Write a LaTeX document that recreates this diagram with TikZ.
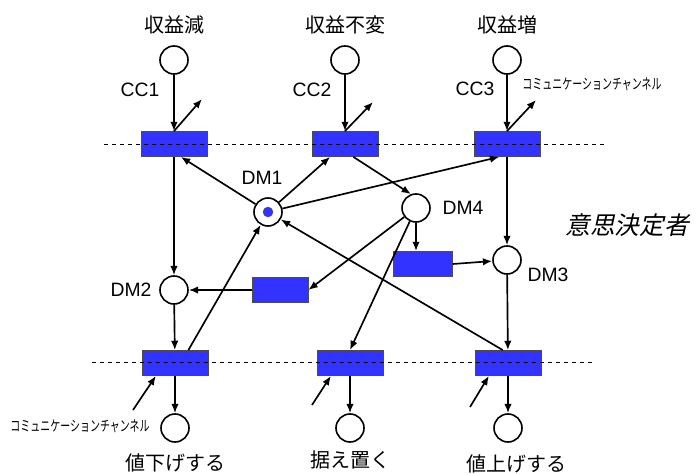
\documentclass[tikz,border=0pt]{standalone}
\usepackage{fontspec}
\usepackage{xcolor}
\usepackage{tikz}
\usetikzlibrary{arrows.meta}

\setmainfont{Liberation Sans}
\newfontfamily\jp{Noto Sans CJK JP}
\newfontfamily\jpslant[FakeSlant=0.22]{Noto Sans CJK JP}
\newfontfamily\jpnarrow[FakeStretch=0.68]{Noto Sans CJK JP}

\definecolor{transblue}{RGB}{51,51,255}

\tikzset{
	place/.style={circle, minimum size=21pt, inner sep=0pt, draw=black, line width=1.2pt, fill=white},
	trans/.style={rectangle, minimum width=49.5pt, minimum height=18.75pt, inner sep=0pt, draw=black!70, line width=0.6pt, fill=transblue},
	flow/.style={line width=1.25pt, -{Latex[length=7pt,width=5.6pt]}},
	sep/.style={dashed, line width=0.6pt, dash pattern=on 3pt off 3pt},
	lat/.style={font=\fontsize{14.5}{16}\selectfont},
	jlbl/.style={font=\jp\fontsize{15}{17}\selectfont},
	chan/.style={font=\jpnarrow\fontsize{11}{12}\selectfont}
}

\begin{document}
\begin{tikzpicture}[x=0.75pt, y=-0.75pt]
	\useasboundingbox (0,0) rectangle (700,474);

	% outcome places and channels on top
	\node[place] at (174,60)(cc1){};
	\node[place] at (345,60)(cc2){};
	\node[place] at (507,60)(cc3){};
	\node[jlbl] at (174,25)(rev1){収益減};
	\node[jlbl] at (345,25)(rev2){収益不変};
	\node[jlbl] at (507,25)(rev3){収益増};
	\node[lat] at (140,90)(cc1l){CC1};
	\node[lat] at (312,90)(cc2l){CC2};
	\node[lat] at (475,89)(cc3l){CC3};
	\node[chan] at (592,84)(chtop){コミュニケーションチャンネル};

	\node[trans] at (174,144)(t1){};
	\node[trans] at (345,144)(t2){};
	\node[trans] at (507,144)(t3){};

	% decision makers
	\node[place] at (268,212)(dm1){};
	\node[place] at (416,208)(dm4){};
	\node[place] at (507,260)(dm3){};
	\node[place] at (174,290)(dm2){};
	\fill[transblue, draw=black!60, line width=0.3pt] (dm1) circle (3.8pt);
	\node[lat] at (262,178)(dm1l){DM1};
	\node[lat] at (463,208)(dm4l){DM4};
	\node[lat] at (548,275)(dm3l){DM3};
	\node[lat] at (131,290)(dm2l){DM2};
	\node[font=\jpslant\fontsize{18.5}{20}\selectfont] at (627,225)(dmk){意思決定者};

	\node[trans, minimum width=42pt] at (280,290)(b1){};
	\node[trans, minimum width=44pt] at (423,264)(b2){};

	% actions at the bottom
	\node[trans] at (175,363)(u1){};
	\node[trans] at (350,363)(u2){};
	\node[trans] at (508,363)(u3){};
	\node[place] at (175,428)(q1){};
	\node[place] at (350,428)(q2){};
	\node[place] at (508,428)(q3){};
	\node[jlbl] at (175,463)(act1){値下げする};
	\node[jlbl] at (350,460)(act2){据え置く};
	\node[jlbl] at (516,464)(act3){値上げする};
	\node[chan] at (80,426)(chbot){コミュニケーションチャンネル};

	\draw[sep] (104,144) -- (605,144);
	\draw[sep] (92,362) -- (592,362);

	\coordinate (o1) at (202,99);
	\coordinate (o2) at (373,102);
	\coordinate (o3) at (536,100);
	\coordinate (i1) at (133,410);
	\coordinate (i2) at (312,405);
	\coordinate (i3) at (470,407);

	\draw[flow](cc1) -- (t1);
	\draw[flow](cc2) -- (t2);
	\draw[flow](cc3) -- (t3);
	\draw[flow](t1.north) -- (o1);
	\draw[flow](t2.north) -- (o2);
	\draw[flow](t3.north) -- (o3);

	\draw[flow](t1) -- (dm2);
	\draw[flow](dm1) -- (t1.-62);
	\draw[flow](dm1) -- (t2.221);
	\draw[flow](dm1) -- (t3.239);
	\draw[flow](t2.-57) -- (dm4.110);
	\draw[flow](t3) -- (dm3);
	\draw[flow](dm4.south) -- (dm4.south |- b2.north);
	\draw[flow](b2.east) -- (dm3);
	\draw[flow](dm4) -- (b1.east);
	\draw[flow](b1.west) -- (dm2);
	\draw[flow](dm4) -- (u2.north);
	\draw[flow](dm2) -- (u1);
	\draw[flow](u1.44) -- (dm1);
	\draw[flow](u3.112) -- (dm1);
	\draw[flow](dm3) -- (u3);

	\draw[flow](u1) -- (q1);
	\draw[flow](u2) -- (q2);
	\draw[flow](u3) -- (q3);
	\draw[flow](i1) -- (u1.214);
	\draw[flow](i2) -- (u2.214);
	\draw[flow](i3) -- (u3.214);
\end{tikzpicture}
\end{document}
